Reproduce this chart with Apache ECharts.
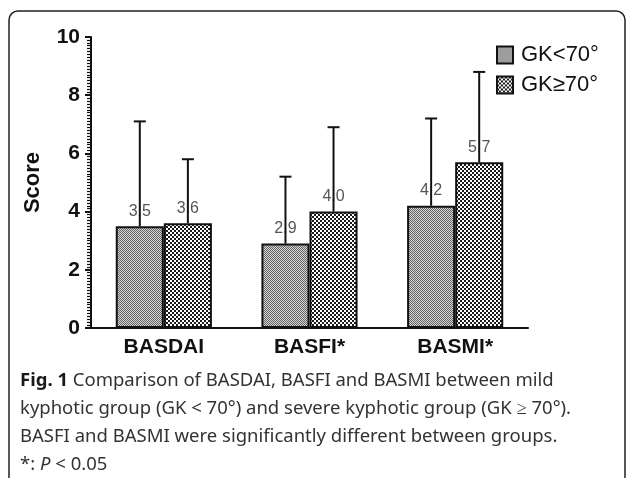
<!DOCTYPE html>
<html>
<head>
<meta charset="utf-8">
<script src="https://cdn.jsdelivr.net/npm/echarts@6/dist/echarts.min.js"></script>
<style>
  html, body { margin: 0; padding: 0; background: #fff; }
  #chart { width: 627px; height: 478px; }
</style>
</head>
<body>
<div id="chart"></div>
<script>
// data
const categories = ['BASDAI', 'BASFI*', 'BASMI*']
const groupNames = ['GK<70°', 'GK≥70°']
const meanMild = [3.5, 2.9, 4.2]
const meanSevere = [3.6, 4.0, 5.7]
const upperMild = [7.1, 5.2, 7.2]     // top of the error bar
const upperSevere = [5.8, 6.9, 8.8]
const yTicks = [0, 2, 4, 6, 8, 10]

// little tiles for the hatch fills
function makePattern(size, cell, dark, light) {
  const c = document.createElement('canvas')
  c.width = size
  c.height = size
  const ctx = c.getContext('2d')
  ctx.fillStyle = light
  ctx.fillRect(0, 0, size, size)
  ctx.fillStyle = dark
  for (let y = 0; y < size; y += cell) {
    for (let x = 0; x < size; x += cell) {
      if (((x / cell) + (y / cell)) % 2 === 0) ctx.fillRect(x, y, cell, cell)
    }
  }
  return { image: c, repeat: 'repeat' }
}
const fineFill = makePattern(2, 1, '#666', '#d4d4d4')
const coarseFill = makePattern(4, 2, '#1a1a1a', '#ffffff')

const chart = echarts.init(document.getElementById('chart'))

function errorBar(side) {
  return function (params, api) {
    const idx = api.value(0)
    const band = api.size([1, 0])[0]
    const off = band * 0.33 / 2 * side
    const base = api.coord([idx, api.value(1)])
    const top = api.coord([idx, api.value(2)])
    const x = base[0] + off
    const st = { stroke: '#111', lineWidth: 2 }
    return {
      type: 'group',
      children: [
        { type: 'line', shape: { x1: x, y1: base[1], x2: x, y2: top[1] }, style: st },
        { type: 'line', shape: { x1: x - 6, y1: top[1], x2: x + 6, y2: top[1] }, style: st }
      ]
    }
  }
}

const barLabel = {
  show: true,
  position: 'top',
  distance: 7,
  fontFamily: 'Liberation Sans',
  fontSize: 16,
  color: '#555',
  formatter: p => p.value.toFixed(1)
}

const option = {
  backgroundColor: '#fff',
  animation: false,
  textStyle: { fontFamily: 'Liberation Sans' },
  grid: { left: 91, right: 99, top: 37, bottom: 150 },
  legend: {
    orient: 'vertical',
    left: 496,
    top: 44,
    padding: 0,
    itemGap: 8,
    itemWidth: 16,
    itemHeight: 17,
    icon: 'rect',
    textStyle: { fontSize: 22, color: '#111', padding: [0, 0, 0, 3] },
    data: groupNames
  },
  xAxis: {
    type: 'category',
    data: categories,
    axisLine: { lineStyle: { color: '#111', width: 2 } },
    axisTick: { alignWithLabel: true, length: 5, lineStyle: { color: '#111', width: 2 } },
    axisLabel: { fontSize: 21, fontWeight: 'bold', color: '#111', margin: 9 }
  },
  yAxis: {
    type: 'value',
    min: yTicks[0],
    max: yTicks[yTicks.length - 1],
    interval: 2,
    name: 'Score',
    nameLocation: 'middle',
    nameGap: 47,
    nameTextStyle: { fontSize: 22, fontWeight: 'bold', color: '#111' },
    axisLine: { show: true, lineStyle: { color: '#111', width: 2 } },
    axisTick: { show: true, length: 6, lineStyle: { color: '#111', width: 2 } },
    minorTick: { show: true, splitNumber: 20, length: 4, lineStyle: { color: '#111', width: 1.2 } },
    splitLine: { show: false },
    axisLabel: { fontSize: 21, fontWeight: 'bold', color: '#111', margin: 11 }
  },
  series: [
    {
      name: groupNames[0],
      type: 'bar',
      barWidth: '33%',
      barGap: '0%',
      data: meanMild,
      itemStyle: { color: fineFill, borderColor: '#111', borderWidth: 2 },
      label: barLabel
    },
    {
      name: groupNames[1],
      type: 'bar',
      barWidth: '33%',
      barGap: '0%',
      data: meanSevere,
      itemStyle: { color: coarseFill, borderColor: '#111', borderWidth: 2 },
      label: barLabel
    },
    {
      type: 'custom',
      z: 10,
      renderItem: errorBar(-1),
      data: meanMild.map((v, i) => [i, v, upperMild[i]])
    },
    {
      type: 'custom',
      z: 10,
      renderItem: errorBar(1),
      data: meanSevere.map((v, i) => [i, v, upperSevere[i]])
    }
  ],
  graphic: [
    {
      type: 'rect',
      shape: { x: 9, y: 11, width: 616, height: 520, r: 9 },
      style: { fill: 'none', stroke: '#222', lineWidth: 1.5 },
      silent: true
    },
    {
      type: 'text',
      left: 20,
      top: 367,
      style: {
        text: '{b|Fig. 1} Comparison of BASDAI, BASFI and BASMI between mild\n' +
          'kyphotic group (GK < 70°) and severe kyphotic group (GK ≥ 70°).\n' +
          'BASFI and BASMI were significantly different between groups.\n' +
          '*: {i|P} < 0.05',
        fontFamily: 'Noto Sans',
        fontSize: 18.5,
        lineHeight: 28,
        fill: '#333',
        rich: {
          b: { fontFamily: 'Noto Sans', fontSize: 18.5, fontWeight: 'bold', fill: '#1a1a1a', lineHeight: 28 },
          i: { fontFamily: 'Noto Sans', fontSize: 18.5, fontStyle: 'italic', fill: '#333', lineHeight: 28 }
        }
      }
    }
  ]
}
chart.setOption(option)
</script>
</body>
</html>
